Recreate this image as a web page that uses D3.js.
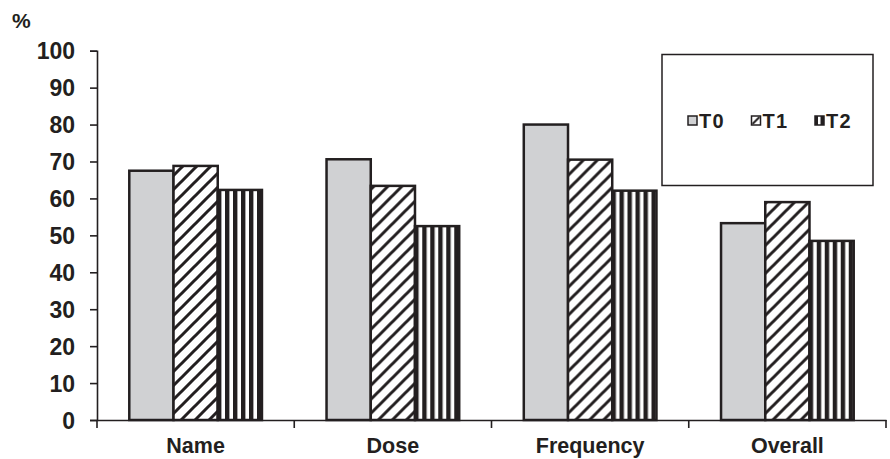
<!DOCTYPE html>
<html>
<head>
<meta charset="utf-8">
<script src="https://cdn.jsdelivr.net/npm/d3@7"></script>
<style>
  body { margin: 0; background: #fff; }
  text { font-family: "Liberation Sans", Arial, sans-serif; font-weight: bold; fill: #231f20; }
</style>
</head>
<body>
<div id="chart"></div>
<script>
var categories = ["Name", "Dose", "Frequency", "Overall"];
var series = ["T0", "T1", "T2"];
var valuesT0 = [67.5, 70.6, 80.0, 53.3];
var valuesT1 = [68.8, 63.4, 70.5, 59.0];
var valuesT2 = [62.3, 52.5, 62.1, 48.5];
var yTicks = [0, 10, 20, 30, 40, 50, 60, 70, 80, 90, 100];

var seriesValues = [valuesT0, valuesT1, valuesT2];
var data = categories.map(function(c, i) {
  return { cat: c, vals: series.map(function(s, j) { return { key: s, value: seriesValues[j][i] }; }) };
});

var width = 890, height = 459;
var margin = { top: 50.7, right: 4, bottom: 39, left: 97 };
var ink = "#231f20";

var svg = d3.select("#chart").append("svg")
  .attr("width", width)
  .attr("height", height);

// fills
var defs = svg.append("defs");
var hatch = defs.append("pattern")
  .attr("id", "hatch")
  .attr("patternUnits", "userSpaceOnUse")
  .attr("width", 14).attr("height", 14);
hatch.append("rect").attr("width", 14).attr("height", 14).attr("fill", "#fff");
hatch.append("path")
  .attr("d", "M-2,2 l4,-4 M0,14 l14,-14 M12,16 l4,-4")
  .attr("stroke", ink).attr("stroke-width", 3);

var stripes = defs.append("pattern")
  .attr("id", "stripes")
  .attr("patternUnits", "userSpaceOnUse")
  .attr("width", 8).attr("height", 10);
stripes.append("rect").attr("width", 8).attr("height", 10).attr("fill", "#fff");
stripes.append("rect").attr("width", 4.4).attr("height", 10).attr("fill", ink);

// small versions for the legend keys
var hatchKey = defs.append("pattern")
  .attr("id", "hatchKey")
  .attr("patternUnits", "objectBoundingBox")
  .attr("width", 1).attr("height", 1);
hatchKey.append("rect").attr("width", 9).attr("height", 9).attr("fill", "#fff");
hatchKey.append("path").attr("d", "M1,8 L8,1").attr("stroke", ink).attr("stroke-width", 2);

var stripesKey = defs.append("pattern")
  .attr("id", "stripesKey")
  .attr("patternUnits", "objectBoundingBox")
  .attr("width", 1).attr("height", 1);
stripesKey.append("rect").attr("width", 9).attr("height", 9).attr("fill", ink);
stripesKey.append("rect").attr("x", 3).attr("width", 2.5).attr("height", 9).attr("fill", "#fff");

var fills = d3.scaleOrdinal()
  .domain(series)
  .range(["#d0d1d3", "url(#hatch)", "url(#stripes)"]);
var keyFills = d3.scaleOrdinal()
  .domain(series)
  .range(["#d0d1d3", "url(#hatchKey)", "url(#stripesKey)"]);

var x0 = d3.scaleBand()
  .domain(categories)
  .range([margin.left, width - margin.right])
  .padding(0);

var x1 = d3.scaleBand()
  .domain(series)
  .range([0, x0.bandwidth()])
  .paddingInner(0)
  .paddingOuter(0.73);

var y = d3.scaleLinear()
  .domain([0, 100])
  .range([height - margin.bottom, margin.top]);

// bars
var groups = svg.append("g").selectAll("g")
  .data(data)
  .enter().append("g")
  .attr("transform", function(d) { return "translate(" + x0(d.cat) + ",0)"; });

groups.selectAll("rect")
  .data(function(d) { return d.vals; })
  .enter().append("rect")
  .attr("x", function(d) { return x1(d.key); })
  .attr("y", function(d) { return y(d.value); })
  .attr("width", x1.bandwidth())
  .attr("height", function(d) { return y(0) - y(d.value); })
  .attr("fill", function(d) { return fills(d.key); })
  .attr("stroke", ink)
  .attr("stroke-width", 2.5);

// y axis
var yAxis = svg.append("g")
  .attr("transform", "translate(" + margin.left + ",0)")
  .call(d3.axisLeft(y).tickValues(yTicks).tickSize(7).tickPadding(15).tickFormat(d3.format("d")));
yAxis.select(".domain").attr("stroke", ink).attr("stroke-width", 1.6);
yAxis.selectAll(".tick line").attr("stroke", ink).attr("stroke-width", 1.6);
yAxis.selectAll("text").style("font-size", "23px").attr("dy", "0.36em").attr("fill", ink);

// x axis
var xAxis = svg.append("g")
  .attr("transform", "translate(0," + y(0) + ")")
  .call(d3.axisBottom(x0).tickSize(0).tickPadding(18));
xAxis.select(".domain").attr("stroke", ink).attr("stroke-width", 1.6);
xAxis.selectAll("text").style("font-size", "21.5px").attr("fill", ink);

var edges = categories.map(function(c) { return x0(c); }).concat([x0.range()[1]]);
xAxis.selectAll(".edge")
  .data(edges)
  .enter().append("line")
  .attr("class", "edge")
  .attr("x1", function(d) { return d; })
  .attr("x2", function(d) { return d; })
  .attr("y1", 0).attr("y2", 8)
  .attr("stroke", ink).attr("stroke-width", 1.6);

// unit label
svg.append("text")
  .attr("x", 12).attr("y", 27.5)
  .style("font-size", "21px")
  .text("%");

// legend
var legend = svg.append("g").attr("transform", "translate(662,54.5)");
legend.append("rect")
  .attr("width", 211).attr("height", 131)
  .attr("fill", "#fff").attr("stroke", ink).attr("stroke-width", 1.5);

var legendX = d3.scalePoint().domain(series).range([26, 153]);
var items = legend.selectAll(".item")
  .data(series)
  .enter().append("g")
  .attr("class", "item")
  .attr("transform", function(d) { return "translate(" + legendX(d) + ",61.5)"; });
items.append("rect")
  .attr("width", 9).attr("height", 9)
  .attr("fill", function(d) { return keyFills(d); })
  .attr("stroke", ink).attr("stroke-width", 1.5);
items.append("text")
  .attr("x", 11).attr("y", 11.5)
  .style("font-size", "20px")
  .style("letter-spacing", "1.2px")
  .text(function(d) { return d; });
</script>
</body>
</html>
